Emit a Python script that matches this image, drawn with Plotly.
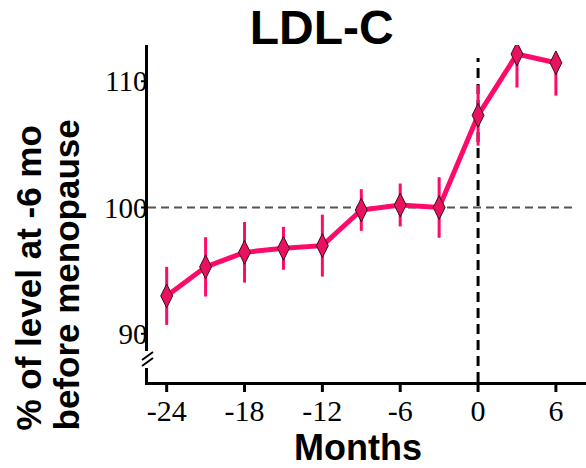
import plotly.graph_objects as go

months = [-24, -21, -18, -15, -12, -9, -6, -3, 0, 3, 6]
ldl_pct = [93.0, 95.3, 96.45, 96.77, 96.98, 99.8, 100.2, 100.0, 107.3, 112.15, 111.46]
err_down = [2.3, 2.35, 2.4, 1.7, 2.45, 1.65, 1.7, 2.4, 2.4, 2.65, 2.6]
err_up = [2.3, 2.35, 2.4, 1.7, 2.45, 1.65, 1.7, 2.4, 2.4, 0, 0]  # upper bars not shown for +3, +6
x_ticks = [-24, -18, -12, -6, 0, 6]
y_ticks = [90, 100, 110]

PINK = "#ff0a68"
W, H = 586, 468
L, R, T, B = 148, 0, 45, 86
PW, PH = W - L - R, H - T - B
XR = [-25.44, 8.32]
YR = [86.18, 112.87]

def px2paper_x(px):
    return (px - L) / PW

def px2paper_y(py):
    return (H - B - py) / PH

fig = go.Figure()
fig.add_trace(go.Scatter(
    x=months, y=ldl_pct, mode="lines+markers",
    line=dict(color=PINK, width=5),
    marker=dict(symbol="diamond-tall", size=17, color="#e8125f",
                line=dict(color="#3a0a1c", width=1)),
    error_y=dict(type="data", symmetric=False, array=err_up, arrayminus=err_down,
                 visible=True, color=PINK, thickness=3, width=0),
    cliponaxis=True, showlegend=False,
))

serif = "Liberation Serif"
sans = "Liberation Sans"

fig.update_layout(
    width=W, height=H,
    margin=dict(l=L, r=R, t=T, b=B),
    paper_bgcolor="white", plot_bgcolor="white",
    title=dict(text="<b>LDL-C</b>", x=321.7 / W, xanchor="center",
               y=1 - 27.5 / H, yanchor="middle",
               font=dict(family=sans, size=48, color="black")),
    xaxis=dict(range=XR, tickvals=x_ticks,
               ticktext=[str(v) for v in x_ticks], ticks="",
               showline=True, linecolor="black", linewidth=2.5,
               showgrid=False, zeroline=False,
               tickfont=dict(family=serif, size=30, color="black")),
    yaxis=dict(range=YR, tickvals=y_ticks, ticks="",
               showline=True, linecolor="black", linewidth=2.5,
               showgrid=False, zeroline=False, ticklabelstandoff=-8,
               tickfont=dict(family=serif, size=29, color="black")),
)

# tick marks (positioned by the axes' own scales)
for v in x_ticks:
    fig.add_shape(type="line", xref="x", yref="paper", x0=v, x1=v,
                  ysizemode="pixel", yanchor=0, y0=0, y1=-10,
                  line=dict(color="black", width=3), layer="above")
for v in y_ticks:
    fig.add_shape(type="line", yref="y", xref="paper", y0=v, y1=v,
                  xsizemode="pixel", xanchor=0, x0=-7, x1=0,
                  line=dict(color="black", width=2), layer="above")

# reference lines
fig.add_shape(type="line", xref="paper", yref="y", x0=0, x1=px2paper_x(575),
              y0=100, y1=100, line=dict(color="#555555", width=2, dash="8px,5px"),
              layer="below")
fig.add_shape(type="line", xref="x", yref="paper", x0=0, x1=0,
              y0=0, y1=px2paper_y(58), line=dict(color="black", width=3, dash="10px,6px"),
              layer="below")

# axis break
fig.add_shape(type="rect", xref="paper", yref="paper",
              x0=px2paper_x(142), x1=px2paper_x(154),
              y0=px2paper_y(368), y1=px2paper_y(351),
              fillcolor="white", line=dict(width=0), layer="above")
for off in (0, 6):
    fig.add_shape(type="line", xref="paper", yref="paper",
                  x0=px2paper_x(142), x1=px2paper_x(153),
                  y0=px2paper_y(360 + off), y1=px2paper_y(352 + off),
                  line=dict(color="black", width=2), layer="above")

# axis titles
fig.add_annotation(text="<b>% of level at -6 mo</b>", xref="paper", yref="paper",
                   x=px2paper_x(28), y=px2paper_y(278.5), textangle=-90,
                   showarrow=False, xanchor="center", yanchor="middle",
                   font=dict(family=sans, size=35, color="black"))
fig.add_annotation(text="<b>before menopause</b>", xref="paper", yref="paper",
                   x=px2paper_x(66), y=px2paper_y(275.5), textangle=-90,
                   showarrow=False, xanchor="center", yanchor="middle",
                   font=dict(family=sans, size=35, color="black"))
fig.add_annotation(text="<b>Months</b>", xref="paper", yref="paper",
                   x=px2paper_x(358), y=px2paper_y(448),
                   showarrow=False, xanchor="center", yanchor="middle",
                   font=dict(family=sans, size=36, color="black"))

fig.write_html("out.html")
